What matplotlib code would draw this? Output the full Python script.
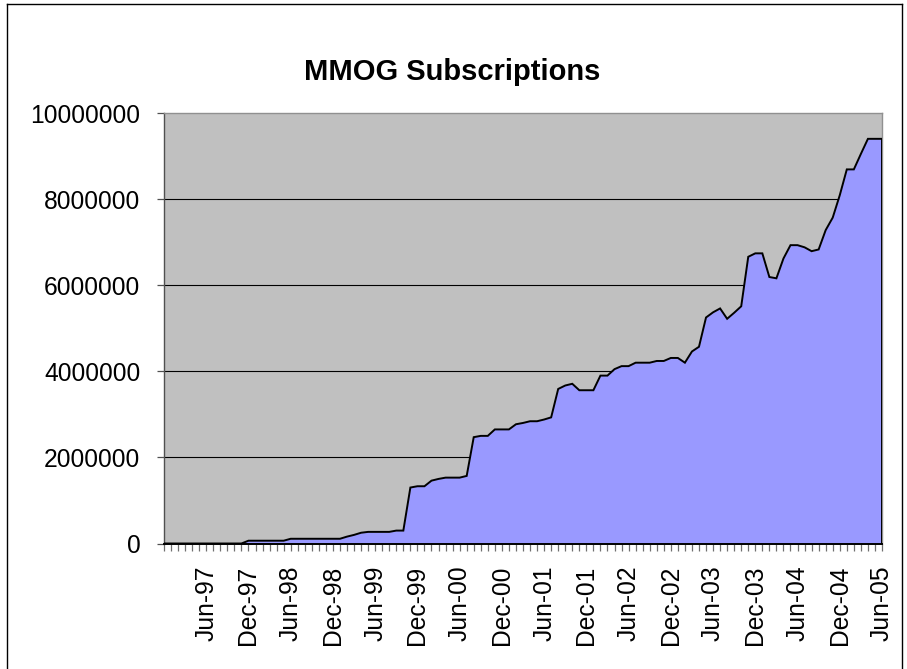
import matplotlib
matplotlib.use("Agg")
import matplotlib.pyplot as plt
from matplotlib.lines import Line2D

plt.rcParams['font.family'] = ['Liberation Sans', 'DejaVu Sans']

# Monthly subscriptions, Dec-96 .. Jun-05 (103 months)
subscriptions = [
    0, 0, 0, 0, 0, 0, 0, 0, 0, 0, 0, 0,                      # Dec-96 .. Nov-97
    65000, 65000, 65000, 65000, 65000, 65000,                # Dec-97 .. May-98
    110000, 110000, 110000, 110000, 110000, 110000, 110000, 110000,  # Jun-98 .. Jan-99
    160000, 200000, 250000, 270000, 270000, 270000, 270000,  # Feb-99 .. Aug-99
    300000, 300000, 1300000, 1330000, 1330000, 1460000,      # Sep-99 .. Feb-00
    1500000, 1530000, 1530000, 1530000, 1570000, 2470000,    # Mar-00 .. Aug-00
    2500000, 2500000, 2650000, 2650000, 2650000, 2770000,    # Sep-00 .. Feb-01
    2800000, 2840000, 2840000, 2880000, 2930000, 3590000,    # Mar-01 .. Aug-01
    3670000, 3710000, 3560000, 3560000, 3560000, 3900000,    # Sep-01 .. Feb-02
    3900000, 4050000, 4120000, 4120000, 4200000, 4200000,    # Mar-02 .. Aug-02
    4200000, 4240000, 4240000, 4310000, 4310000, 4200000,    # Sep-02 .. Feb-03
    4460000, 4570000, 5250000, 5370000, 5460000, 5220000,    # Mar-03 .. Aug-03
    5360000, 5510000, 6660000, 6740000, 6740000, 6190000,    # Sep-03 .. Feb-04
    6160000, 6620000, 6930000, 6930000, 6880000, 6790000,    # Mar-04 .. Aug-04
    6830000, 7280000, 7570000, 8090000, 8690000, 8690000,    # Sep-04 .. Feb-05
    9050000, 9400000, 9400000, 9400000,                      # Mar-05 .. Jun-05
]

tick_labels = ["Jun-97", "Dec-97", "Jun-98", "Dec-98", "Jun-99", "Dec-99",
               "Jun-00", "Dec-00", "Jun-01", "Dec-01", "Jun-02", "Dec-02",
               "Jun-03", "Dec-03", "Jun-04", "Dec-04", "Jun-05"]
label_positions = [6 + 6 * k for k in range(len(tick_labels))]

y_ticks = [0, 2000000, 4000000, 6000000, 8000000, 10000000]

x = list(range(len(subscriptions)))

fig = plt.figure(figsize=(9.07, 6.69), dpi=100)
ax = fig.add_axes([164 / 907, 1 - 543.5 / 669, (882 - 164) / 907, (543.5 - 113) / 669])
ax.set_facecolor('#C0C0C0')

for yv in y_ticks[1:-1]:
    ax.axhline(yv, color='black', lw=0.8, zorder=1)

ax.fill_between(x, subscriptions, 0, color='#9999FF', lw=0, zorder=2)
ax.plot(x, subscriptions, color='black', lw=1.4, zorder=3, solid_joinstyle='miter')
ax.plot([x[-1], x[-1]], [0, subscriptions[-1]], color='black', lw=1.4, zorder=3)

ax.set_xlim(0, len(subscriptions) - 1)
ax.set_ylim(0, 10000000)

ax.set_yticks(y_ticks)
ax.set_yticklabels([str(v) for v in y_ticks])
ax.set_xticks(x, minor=True)
ax.set_xticks(label_positions)
ax.set_xticklabels(tick_labels, rotation=90, va='top', ha='center')

ax.tick_params(axis='y', direction='out', length=5, width=0.9, color='#505050',
               labelsize=17.7, pad=12)
ax.tick_params(axis='x', which='both', direction='out', length=5, width=0.9,
               color='#707070', labelsize=17.7, pad=11)

ax.spines['top'].set_color('#909090')
ax.spines['right'].set_color('#909090')
ax.spines['left'].set_color('#505050')
ax.spines['bottom'].set_color('black')
for s in ax.spines.values():
    s.set_linewidth(1.0)
ax.spines['bottom'].set_linewidth(1.4)
ax.spines['bottom'].set_zorder(4)

fig.text(452 / 907, 1 - 72 / 669, "MMOG Subscriptions", ha='center', va='center',
         fontsize=21, fontweight='bold')

# chart border
W, H = 907, 669
for (x0, y0, x1, y1) in [(7, 4, 902, 4), (7, 4, 7, 669), (902, 4, 902, 669)]:
    fig.add_artist(Line2D([x0 / W, x1 / W], [1 - y0 / H, 1 - y1 / H],
                          color='black', lw=1.0, transform=fig.transFigure))

fig.savefig('out.png', dpi=100)
